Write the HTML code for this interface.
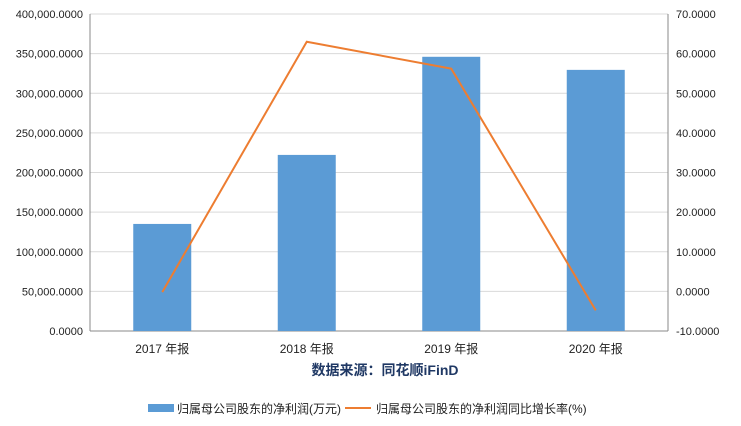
<!DOCTYPE html>
<html><head><meta charset="utf-8"><style>
body{margin:0;background:#fff;width:741px;height:421px;overflow:hidden}
svg text{font-family:"Liberation Sans","Noto Sans CJK SC",sans-serif;fill:#222}
</style></head><body>
<svg id="c" width="741" height="421"></svg>
<script>
const categories=["2017 年报","2018 年报","2019 年报","2020 年报"];
const profit=[135100,222200,346000,329500];
const growth=[-0.2,63.0,56.2,-4.8];
const leftTicks=[0,50000,100000,150000,200000,250000,300000,350000,400000];
const rightTicks=[-10,0,10,20,30,40,50,60,70];
const NS="http://www.w3.org/2000/svg";
const svg=document.getElementById('c');
const X0=90,X1=668,Y0=331,Y1=14;
const yL=v=>Y0-(v-0)/400000*(Y0-Y1);
const yR=v=>Y0-(v+10)/80*(Y0-Y1);
const bw=(X1-X0)/categories.length;
const xC=i=>X0+bw*(i+0.5);
function mk(t,a,txt){const e=document.createElementNS(NS,t);for(const k in a)e.setAttribute(k,a[k]);if(txt!==undefined)e.textContent=txt;svg.appendChild(e);return e;}
const fmt=v=>v.toLocaleString('en-US',{minimumFractionDigits:4,maximumFractionDigits:4});
leftTicks.forEach(v=>{
 const g=mk('line',{x1:X0,x2:X1,y1:yL(v),y2:yL(v),stroke:'#d9d9d9'});
 
 
 const t=mk('text',{x:X0-7,y:yL(v)+4,'text-anchor':'end','font-size':11},fmt(v));
 
 
});
rightTicks.forEach(v=>{
 const t=mk('text',{x:X1+8,y:yR(v)+4,'font-size':11},fmt(v));
 
 
});
let a=mk('line',{x1:X0,x2:X0,y1:Y1,y2:Y0,stroke:'#888'});
a=mk('line',{x1:X1,x2:X1,y1:Y1,y2:Y0,stroke:'#888'});
a=mk('line',{x1:X0,x2:X1,y1:Y0,y2:Y0,stroke:'#888'});
categories.forEach((c,i)=>{
 const b=mk('rect',{x:xC(i)-29,y:yL(profit[i]),width:58,height:Y0-yL(profit[i]),fill:'#5b9bd5'});
 
 
 const t=mk('text',{x:xC(i),y:353,'text-anchor':'middle','font-size':12},c);
 
 
});
const pl=mk('polyline',{points:growth.map((v,i)=>xC(i)+','+yR(v)).join(' '),fill:'none',stroke:'#ed7d31','stroke-width':2});


let s=mk('text',{x:385,y:375,'text-anchor':'middle','font-size':14,'font-weight':'bold',style:'fill:#1f3864'},'数据来源：同花顺iFinD');

let l=mk('rect',{x:148,y:404,width:26,height:8,fill:'#5b9bd5'});
l=mk('text',{x:177,y:413,'font-size':12},'归属母公司股东的净利润(万元)');
l=mk('line',{x1:345,x2:371,y1:408,y2:408,stroke:'#ed7d31','stroke-width':2});
l=mk('text',{x:376,y:413,'font-size':12},'归属母公司股东的净利润同比增长率(%)');
</script>
</body></html>
